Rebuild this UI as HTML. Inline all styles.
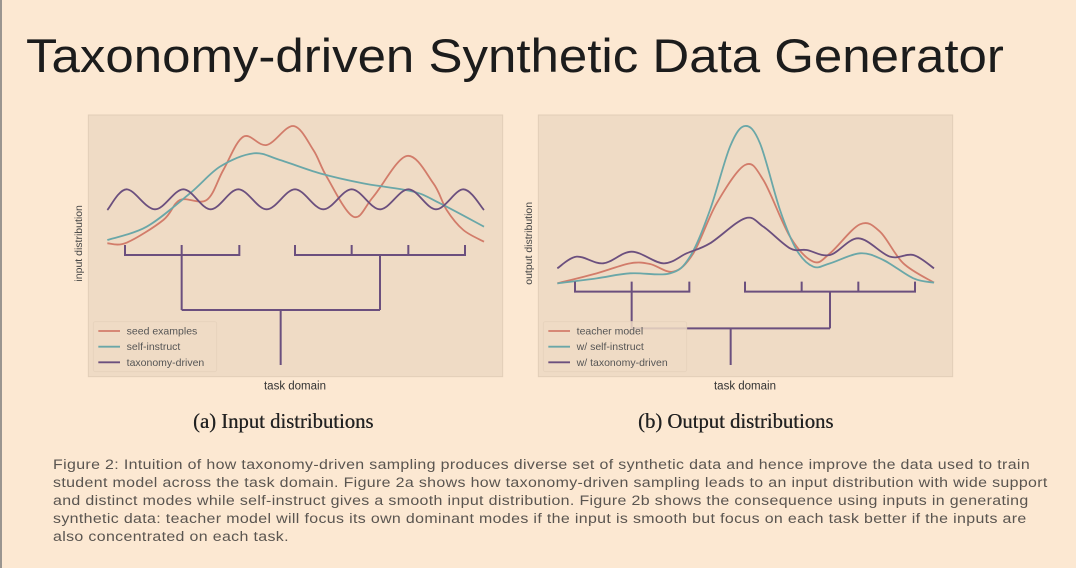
<!DOCTYPE html>
<html><head><meta charset="utf-8"><style>
body{margin:0;width:1076px;height:568px;overflow:hidden;background:#fce8d2;font-family:"Liberation Sans",sans-serif;position:relative}
#border{position:absolute;left:0;top:0;width:2px;height:568px;background:#9a9590}
h1{position:absolute;left:26px;top:28px;margin:0;font-weight:normal;font-size:47px;color:#1c1c1c;white-space:nowrap;transform-origin:0 0;transform:scaleX(1.085)}
.sub{position:absolute;top:411px;font-family:"Liberation Serif",serif;font-size:20.7px;color:#222;text-shadow:0.3px 0 0 #222}
#cap{position:absolute;left:53px;top:456px;font-size:13.5px;line-height:18px;color:#5a5550;white-space:nowrap;letter-spacing:0.3px;transform-origin:0 0;transform:scaleX(1.18)}
svg{position:absolute;left:0;top:0}
</style></head><body>
<div id="border"></div>
<h1>Taxonomy-driven Synthetic Data Generator</h1>
<div class="sub" style="left:193px">(a) Input distributions</div>
<div class="sub" style="left:638px">(b) Output distributions</div>
<div id="cap">Figure 2: Intuition of how taxonomy-driven sampling produces diverse set of synthetic data and hence improve the data used to train<br>student model across the task domain. Figure 2a shows how taxonomy-driven sampling leads to an input distribution with wide support<br>and distinct modes while self-instruct gives a smooth input distribution. Figure 2b shows the consequence using inputs in generating<br>synthetic data: teacher model will focus its own dominant modes if the input is smooth but focus on each task better if the inputs are<br>also concentrated on each task.</div>
<svg id="chart" width="1076" height="568"></svg>
<script>
// data in "zoom units": x 0..1290 across plot, y = height above panel bottom (0..800)
const seedX=[82,140,250,300,380,430,490,560,640,700,740,820,880,980,1060,1100,1150,1212];
const seedY=[400,402,470,530,530,620,720,695,752,680,600,480,540,662,580,500,440,405];
const selfX=[82,200,330,420,520,600,720,850,1000,1080,1212];
const selfY=[410,450,550,630,670,650,610,580,555,520,450];
const taxX=[82,140,225,310,392,475,560,645,730,815,900,985,1068,1150,1212];
const taxY=[500,562,502,562,502,562,502,562,502,562,502,562,502,562,500];
const teachX=[82,200,300,360,430,490,560,645,700,780,850,900,990,1050,1120,1212];
const teachY=[280,310,340,338,315,370,520,635,590,420,345,370,457,435,340,282];
const wselfX=[82,200,300,420,480,540,600,645,690,750,800,850,900,990,1060,1150,1212];
const wselfY=[280,295,310,310,360,500,690,752,700,500,380,330,340,370,350,295,282];
const wtaxX=[82,140,220,305,400,470,540,645,700,780,830,900,985,1080,1150,1212];
const wtaxY=[325,360,340,375,340,370,400,475,450,385,380,365,415,360,365,325];
const legendA=["seed examples","self-instruct","taxonomy-driven"];
const legendB=["teacher model","w/ self-instruct","w/ taxonomy-driven"];
const colors=["#d27c6a","#6aa7a8","#6b4f7e"];
const NS="http://www.w3.org/2000/svg";
const svg=document.getElementById('chart');
function el(t,a,p){const e=document.createElementNS(NS,t);for(const k in a)e.setAttribute(k,a[k]);(p||svg).appendChild(e);return e;}
function catmull(pts){let d=`M${pts[0][0]},${pts[0][1]}`;for(let i=0;i<pts.length-1;i++){const p0=pts[Math.max(i-1,0)],p1=pts[i],p2=pts[i+1],p3=pts[Math.min(i+2,pts.length-1)];const c1=[p1[0]+(p2[0]-p0[0])/6,p1[1]+(p2[1]-p0[1])/6],c2=[p2[0]-(p3[0]-p1[0])/6,p2[1]-(p3[1]-p1[1])/6];d+=` C${c1[0]},${c1[1]} ${c2[0]},${c2[1]} ${p2[0]},${p2[1]}`;}return d;}
function panel(ox,name,series,legend,ylabel,bl,stemY,legW){
  const sx=v=>ox+v/3, sy=v=>110+(800-v)/3, py=v=>110+v/3;
  const g=el('g',{});
  const r=el('rect',{x:sx(25),y:py(15),width:(1268-25)/3,height:(800-15)/3,fill:'#efdbc5',stroke:'#e2ceb8'},g);
  
  series.forEach((s,i)=>{const p=el('path',{d:catmull(s[0].map((x,j)=>[sx(x),sy(s[1][j])])),fill:'none',stroke:colors[i],'stroke-width':1.8},g);
    });
  const st={fill:'none',stroke:'#6b4f7e','stroke-width':2};
  const tree=[`M${sx(135)},${py(bl-30)}V${py(bl)}H${sx(478)}V${py(bl-30)}M${sx(305)},${py(bl-30)}V${py(stemY)}`,
   `M${sx(645)},${py(bl-30)}V${py(bl)}H${sx(1155)}V${py(bl-30)}M${sx(815)},${py(bl-30)}V${py(bl)}M${sx(985)},${py(bl-30)}V${py(bl)}M${sx(900)},${py(bl)}V${py(stemY)}`,
   `M${sx(305)},${py(stemY)}H${sx(900)}M${sx(602)},${py(stemY)}V${py(765)}`];
  tree.forEach(d=>{const p=el('path',Object.assign({d},st),g);});
  const lg=el('g',{},g);
  el('rect',{x:sx(40),y:py(635),width:legW/3,height:150/3,fill:'#efdbc5',opacity:0.85,stroke:'#e6d2bc',rx:2},lg);
  legend.forEach((t,i)=>{const y=py(663+i*47);
    el('line',{x1:sx(55),x2:sx(120),y1:y,y2:y,stroke:colors[i],'stroke-width':1.8},lg);
    const tx=el('text',{x:sx(140),y:y+3.5,'font-size':10.5,fill:'#555','font-family':'Liberation Sans, sans-serif'},lg);tx.textContent=t;
    });
  const xl=el('text',{x:sx(645),y:py(838),'text-anchor':'middle','font-size':11.5,fill:'#333'},g);xl.textContent='task domain';
  
  const yl=el('text',{x:0,y:0,transform:`translate(${name==='chart-a'?82:532},${py(400)}) rotate(-90)`,'text-anchor':'middle','font-size':10.5,fill:'#444'},g);
  yl.textContent=ylabel;
}
panel(80,'chart-a',[[seedX,seedY],[selfX,selfY],[taxX,taxY]],legendA,'input distribution',435,600,370);
panel(530,'chart-b',[[teachX,teachY],[wselfX,wselfY],[wtaxX,wtaxY]],legendB,'output distribution',545,655,430);
</script>
</body></html>
